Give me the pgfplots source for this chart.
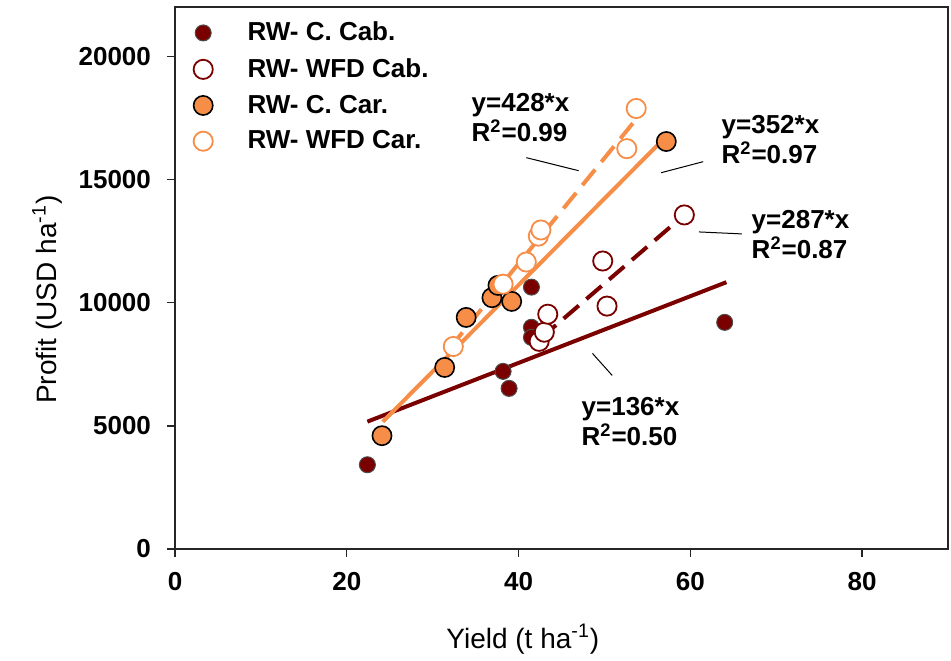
\documentclass[border=0pt]{standalone}
\usepackage{pgfplots}
\pgfplotsset{compat=1.18}
\usepackage{fontspec}
\setmainfont{Liberation Sans}
\definecolor{cabred}{RGB}{122,0,0}
\definecolor{carorange}{RGB}{247,142,72}

\begin{document}
\begin{tikzpicture}
\useasboundingbox (-87.5pt,-55.5pt) rectangle (388pt,274.5pt);
\begin{axis}[
  scale only axis, width=386.5pt, height=271pt,
  xmin=0, xmax=90, ymin=0, ymax=22000,
  xtick={0,20,...,80}, ytick={0,5000,...,20000},
  scaled y ticks=false,
  tick align=outside, xtick pos=left, ytick pos=left,
  major tick length=4pt,
  axis line style={line width=0.7pt, black!85},
  tick style={line width=0.7pt, black!85},
  /pgf/number format/1000 sep={},
  /pgf/number format/assume math mode=true,
  tick label style={font=\fontsize{13}{15}\selectfont\bfseries},
  yticklabel style={xshift=-4.5pt},
  xticklabel style={yshift=-4pt},
  xlabel={Yield (t ha\textsuperscript{-1})},
  ylabel={Profit (USD ha\textsuperscript{-1})},
  every axis x label/.style={at={(axis description cs:0.45,0)}, anchor=north, yshift=-34pt,
    font=\fontsize{14}{16}\selectfont},
  every axis y label/.style={at={(axis description cs:0,0.46)}, anchor=south, rotate=90, yshift=53pt,
    font=\fontsize{14}{16}\selectfont},
  legend style={at={(axis description cs:0,1)}, xshift=5.7pt, yshift=-3.3pt, anchor=north west,
    draw=none, fill=none, font=\fontsize{13}{15}\selectfont\bfseries, row sep=3.3pt,
    cells={anchor=west}},
  legend cell align=left,
  legend image code/.code={\draw[#1] plot coordinates {(0pt,0pt)}; \path (-5pt,0pt) (20pt,0pt);},
]
% C. Cab.
\addplot[only marks, mark=*, mark size=4pt, mark options={fill=cabred, draw=black!70, line width=0.5pt}]
  coordinates {(22.4,3420) (38.2,7210) (38.9,6520) (41.5,10630) (41.5,9000) (41.5,8590) (64.0,9200)};
% WFD Cab.
\addplot[only marks, mark=*, mark size=4.8pt, mark options={fill=white, draw=cabred, line width=0.9pt}]
  coordinates {(42.4,8430) (43.0,8800) (43.4,9530) (49.8,11690) (50.3,9860) (59.3,13560)};
% C. Car.
\addplot[only marks, mark=*, mark size=4.8pt, mark options={fill=carorange, draw=black, line width=0.8pt}]
  coordinates {(24.1,4600) (31.4,7370) (33.9,9400) (36.9,10200) (37.6,10700) (39.2,10050) (57.2,16540)};
% WFD Car.
\addplot[only marks, mark=*, mark size=4.8pt, mark options={fill=white, draw=carorange, line width=0.9pt}]
  coordinates {(32.4,8220) (38.2,10750) (40.9,11650) (42.3,12700) (42.6,12950) (52.6,16250) (53.7,17880)};
\legend{RW- C. Cab., RW- WFD Cab., RW- C. Car., RW- WFD Car.}

% fitted lines
\addplot[forget plot, cabred, line width=2pt] coordinates {(22.4,5170) (64.2,10830)};
\addplot[forget plot, cabred, line width=2pt, dash pattern=on 10pt off 5pt] coordinates {(42.6,8560) (59.3,13560)};
\addplot[forget plot, carorange, line width=2pt] coordinates {(24.2,5170) (56.6,16540)};
\addplot[forget plot, carorange, line width=2pt, dash pattern=on 10pt off 5pt] coordinates {(32.0,8160) (53.3,17280)};

% leaders and equations
\draw[black, line width=0.5pt] (axis cs:40.9,15885) -- (axis cs:47.0,15355);
\draw[black, line width=0.5pt] (axis cs:56.6,15274) -- (axis cs:61.5,15722);
\draw[black, line width=0.5pt] (axis cs:61.0,12870) -- (axis cs:66.0,12790);
\draw[black, line width=0.5pt] (axis cs:48.6,7942) -- (axis cs:50.9,7046);
\begin{scope}[every node/.style={anchor=base west, align=left, inner sep=0pt,
    font=\fontsize{13}{15}\selectfont\bfseries}]
\node at (axis cs:34.5,16536) {y=428*x\\R\textsuperscript{2}=0.99};
\node at (axis cs:63.6,15640) {y=352*x\\R\textsuperscript{2}=0.97};
\node at (axis cs:67.1,11812) {y=287*x\\R\textsuperscript{2}=0.87};
\node at (axis cs:47.3,4195) {y=136*x\\R\textsuperscript{2}=0.50};
\end{scope}
\end{axis}
\end{tikzpicture}
\end{document}
